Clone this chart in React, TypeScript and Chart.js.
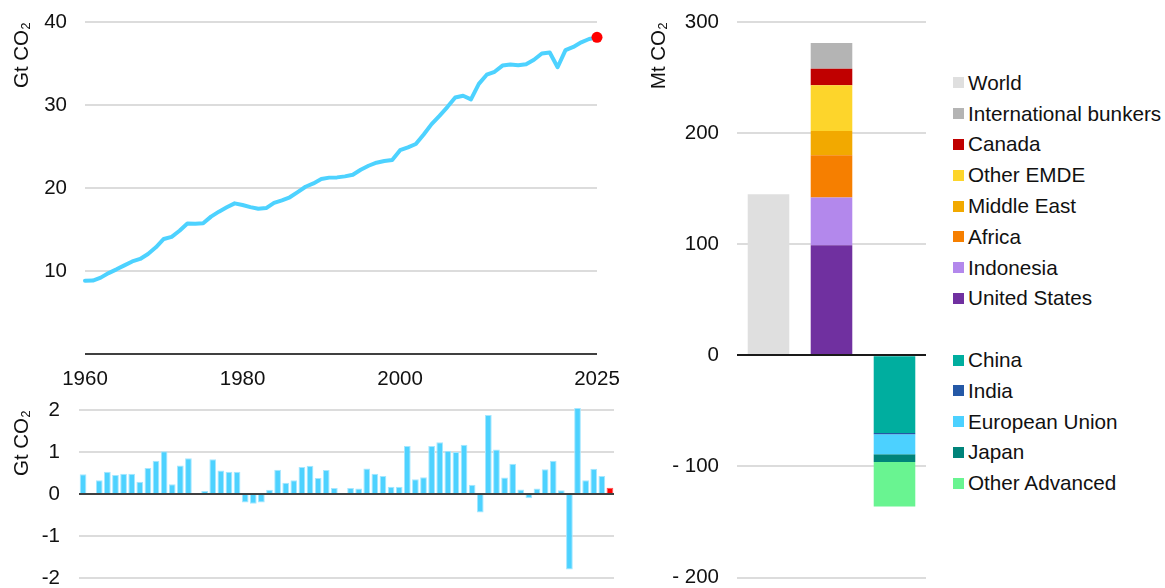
import React, { useEffect, useRef } from 'react';
import { Chart, registerables } from 'chart.js';

Chart.register(...registerables);

const FONT = '"Liberation Sans", Arial, Helvetica, sans-serif';
const TEXT = '#111111';
const GRID = '#DCDCDC';
const ZERO = '#404040';
const LINE_BLUE = '#4DD2FF';
const RED = '#FF0000';

// ---- Left: annual emissions (Gt CO2) ----
const years = [
  1960, 1961, 1962, 1963, 1964, 1965, 1966, 1967, 1968, 1969,
  1970, 1971, 1972, 1973, 1974, 1975, 1976, 1977, 1978, 1979,
  1980, 1981, 1982, 1983, 1984, 1985, 1986, 1987, 1988, 1989,
  1990, 1991, 1992, 1993, 1994, 1995, 1996, 1997, 1998, 1999,
  2000, 2001, 2002, 2003, 2004, 2005, 2006, 2007, 2008, 2009,
  2010, 2011, 2012, 2013, 2014, 2015, 2016, 2017, 2018, 2019,
  2020, 2021, 2022, 2023, 2024, 2025,
];

const emissions = [
  8.83, 8.85, 9.2, 9.75, 10.2, 10.68, 11.15, 11.45, 12.05, 12.85,
  13.86, 14.12, 14.85, 15.72, 15.68, 15.75, 16.55, 17.15, 17.67, 18.15,
  17.95, 17.7, 17.5, 17.58, 18.2, 18.52, 18.88, 19.5, 20.15, 20.55,
  21.08, 21.25, 21.28, 21.4, 21.6, 22.2, 22.68, 23.05, 23.25, 23.38,
  24.55, 24.9, 25.3, 26.45, 27.7, 28.7, 29.75, 30.9, 31.12, 30.68,
  32.55, 33.65, 34.0, 34.75, 34.88, 34.8, 34.92, 35.45, 36.2, 36.33,
  34.55, 36.62, 37.0, 37.55, 37.95, 38.15,
];

const changes = [
  0.47, 0.02, 0.33, 0.53, 0.45, 0.48, 0.48, 0.29, 0.62, 0.79,
  1.02, 0.23, 0.68, 0.85, -0.02, 0.07, 0.83, 0.56, 0.53, 0.53,
  -0.2, -0.23, -0.2, 0.1, 0.58, 0.27, 0.33, 0.64, 0.67, 0.38,
  0.57, 0.14, 0.01, 0.14, 0.13, 0.61, 0.48, 0.43, 0.17, 0.17,
  1.14, 0.35, 0.4, 1.14, 1.23, 1.03, 1.0, 1.17, 0.22, -0.44,
  1.88, 1.06, 0.39, 0.72, 0.11, -0.1, 0.13, 0.59, 0.79, 0.09,
  -1.8, 2.05, 0.33, 0.6, 0.43, 0.15,
];

const xTickYears = [1960, 1980, 2000, 2025];

// ---- Right: change by region (Mt CO2) ----
const barCategories = ['World', 'Increases', 'Decreases'];
const worldLabel = 'World';
const worldValue = 145;
const worldColor = '#DFDFDF';

const increaseRegions = ['United States', 'Indonesia', 'Africa', 'Middle East', 'Other EMDE', 'Canada', 'International bunkers'];
const increaseValues = [99, 43, 38, 22, 41, 15, 23];
const increaseColors = ['#7030A0', '#B388EC', '#F67F00', '#F2A900', '#FDD52B', '#C00000', '#B4B4B4'];

const decreaseRegions = ['China', 'India', 'European Union', 'Japan', 'Other Advanced'];
const decreaseValues = [-70, -1, -18, -7, -40];
const decreaseColors = ['#00AE9F', '#2458A6', '#4CD1FF', '#00847A', '#69F491'];

const tickFont = { family: FONT, size: 20.5 };

const zeroLinePlugin = (color: string, width: number) => ({
  id: 'zeroLine',
  afterDatasetsDraw(chart: any) {
    const { ctx, chartArea, scales } = chart;
    const y = Math.round(scales.y.getPixelForValue(0));
    ctx.save();
    ctx.strokeStyle = color;
    ctx.lineWidth = width;
    ctx.beginPath();
    ctx.moveTo(chartArea.left, y);
    ctx.lineTo(chartArea.right, y);
    ctx.stroke();
    ctx.restore();
  },
});

// fix a vertical axis width and stop its labels from adding layout padding
const fixY = (w: number) => (s: any) => {
  s.width = w;
  s.paddingTop = 0;
  s.paddingBottom = 0;
};

function LineChart() {
  const ref = useRef<HTMLCanvasElement>(null);
  useEffect(() => {
    const last = years.length - 1;
    const chart = new Chart(ref.current as HTMLCanvasElement, {
      type: 'line',
      data: {
        datasets: [
          {
            data: [{ x: years[last], y: emissions[last] }],
            showLine: false,
            pointRadius: 5.5,
            pointBackgroundColor: RED,
            pointBorderWidth: 0,
            clip: false,
          } as any,
          {
            data: years.map((y, i) => ({ x: y, y: emissions[i] })),
            borderColor: LINE_BLUE,
            borderWidth: 4,
            pointRadius: 0,
            tension: 0,
            borderJoinStyle: 'round',
            borderCapStyle: 'round',
            clip: false,
          } as any,
        ],
      },
      options: {
        animation: false,
        responsive: false,
        maintainAspectRatio: false,
        layout: { padding: { top: 22, right: 28, bottom: 6, left: 0 } },
        plugins: { legend: { display: false }, tooltip: { enabled: false } },
        scales: {
          x: {
            type: 'linear',
            min: years[0],
            max: years[last],
            grid: { display: false, drawTicks: false },
            border: { display: false },
            afterBuildTicks: (s: any) => {
              s.ticks = xTickYears.map((v) => ({ value: v }));
            },
            afterFit: (s: any) => {
              s.height = 40;
              s.paddingLeft = 0;
              s.paddingRight = 0;
            },
            ticks: {
              font: tickFont,
              color: TEXT,
              padding: 13,
              maxRotation: 0,
              autoSkip: false,
              callback: (v: any) => String(v),
            },
          },
          y: {
            min: 0,
            max: 40,
            border: { display: false },
            grid: {
              color: (c: any) => (c.tick && c.tick.value === 0 ? ZERO : GRID),
              lineWidth: 2,
              drawTicks: false,
            },
            ticks: {
              stepSize: 10,
              font: tickFont,
              color: TEXT,
              padding: 18,
              callback: (v: any) => (v === 0 ? '' : String(v)),
            },
            title: {
              display: true,
              text: 'Gt CO₂',
              align: 'end',
              font: tickFont,
              color: TEXT,
              padding: { top: 10, bottom: 0 },
            },
            afterFit: fixY(85),
          },
        },
      } as any,
    });
    return () => chart.destroy();
  }, []);
  return (
    <canvas
      ref={ref}
      width={625}
      height={400}
      style={{ position: 'absolute', left: 0, top: 0, width: 625, height: 400 }}
    />
  );
}

function ChangeChart() {
  const ref = useRef<HTMLCanvasElement>(null);
  useEffect(() => {
    const last = changes.length - 1;
    const chart = new Chart(ref.current as HTMLCanvasElement, {
      type: 'bar',
      data: {
        labels: years.map(String),
        datasets: [
          {
            data: changes,
            backgroundColor: (c: any) => (c.dataIndex === last ? RED : LINE_BLUE),
            borderColor: (c: any) => (c.dataIndex === last ? '#FF5050' : '#A6E7FF'),
            borderWidth: 1,
            categoryPercentage: 1,
            barPercentage: 0.83,
            clip: false,
          } as any,
        ],
      },
      options: {
        animation: false,
        responsive: false,
        maintainAspectRatio: false,
        layout: { padding: { top: 25, right: 11, bottom: 12, left: 0 } },
        plugins: { legend: { display: false }, tooltip: { enabled: false } },
        scales: {
          x: { display: false },
          y: {
            min: -2,
            max: 2,
            border: { display: false },
            grid: { color: GRID, lineWidth: 2, drawTicks: false },
            ticks: {
              stepSize: 1,
              font: tickFont,
              color: TEXT,
              padding: 19,
              callback: (v: any) => String(v),
            },
            title: {
              display: true,
              text: 'Gt CO₂',
              align: 'end',
              font: tickFont,
              color: TEXT,
              padding: { top: 10, bottom: 0 },
            },
            afterFit: fixY(79),
          },
        },
      } as any,
      plugins: [zeroLinePlugin(ZERO, 2)],
    });
    return () => chart.destroy();
  }, []);
  return (
    <canvas
      ref={ref}
      width={625}
      height={205}
      style={{ position: 'absolute', left: 0, top: 385, width: 625, height: 205 }}
    />
  );
}

function RegionChart() {
  const ref = useRef<HTMLCanvasElement>(null);
  useEffect(() => {
    const datasets: any[] = [
      {
        label: worldLabel,
        data: [worldValue, null, null],
        backgroundColor: worldColor,
      },
      ...increaseRegions.map((r, i) => ({
        label: r,
        data: [null, increaseValues[i], null],
        backgroundColor: increaseColors[i],
      })),
      ...decreaseRegions.map((r, i) => ({
        label: r,
        data: [null, null, decreaseValues[i]],
        backgroundColor: decreaseColors[i],
      })),
    ].map((d) => ({ ...d, categoryPercentage: 1, barPercentage: 0.66, borderWidth: 0 }));

    const chart = new Chart(ref.current as HTMLCanvasElement, {
      type: 'bar',
      data: { labels: barCategories, datasets },
      options: {
        animation: false,
        responsive: false,
        maintainAspectRatio: false,
        layout: { padding: { top: 22, right: 14, bottom: 12.5, left: 0 } },
        plugins: { legend: { display: false }, tooltip: { enabled: false } },
        scales: {
          x: { display: false, stacked: true },
          y: {
            stacked: true,
            min: -200,
            max: 300,
            border: { display: false },
            grid: { color: GRID, lineWidth: 2, drawTicks: false },
            ticks: {
              stepSize: 100,
              font: tickFont,
              color: TEXT,
              padding: 18,
              callback: (v: any) => (v < 0 ? '- ' + Math.abs(v) : String(v)),
            },
            title: {
              display: true,
              text: 'Mt CO₂',
              align: 'end',
              font: tickFont,
              color: TEXT,
              padding: { top: 7, bottom: 0 },
            },
            afterFit: fixY(97),
          },
        },
      } as any,
      plugins: [zeroLinePlugin('#1A1A1A', 2)],
    });
    return () => chart.destroy();
  }, []);
  return (
    <canvas
      ref={ref}
      width={300}
      height={590}
      style={{ position: 'absolute', left: 640, top: 0, width: 300, height: 590 }}
    />
  );
}

function Legend() {
  const topGroup = [
    { label: worldLabel, color: worldColor },
    ...increaseRegions.map((r, i) => ({ label: r, color: increaseColors[i] })).reverse(),
  ];
  const bottomGroup = decreaseRegions.map((r, i) => ({ label: r, color: decreaseColors[i] }));
  const rows: { label: string; color: string; row: number }[] = [
    ...topGroup.map((it, i) => ({ ...it, row: i })),
    ...bottomGroup.map((it, i) => ({ ...it, row: topGroup.length + 1 + i })),
  ];
  return (
    <>
      {rows.map((it) => (
        <div
          key={it.label}
          style={{
            position: 'absolute',
            left: 953,
            top: 82.8 + 30.8 * it.row - 15,
            height: 30,
            display: 'flex',
            alignItems: 'center',
            whiteSpace: 'nowrap',
            fontFamily: FONT,
            fontSize: 20.7,
            color: TEXT,
          }}
        >
          <span style={{ display: 'inline-block', width: 11, height: 11, background: it.color, marginRight: 4 }} />
          <span>{it.label}</span>
        </div>
      ))}
    </>
  );
}

export default function App() {
  return (
    <div
      style={{
        position: 'absolute',
        left: 0,
        top: 0,
        width: 1165,
        height: 588,
        overflow: 'hidden',
        background: '#FFFFFF',
      }}
    >
      <LineChart />
      <ChangeChart />
      <RegionChart />
      <Legend />
    </div>
  );
}
